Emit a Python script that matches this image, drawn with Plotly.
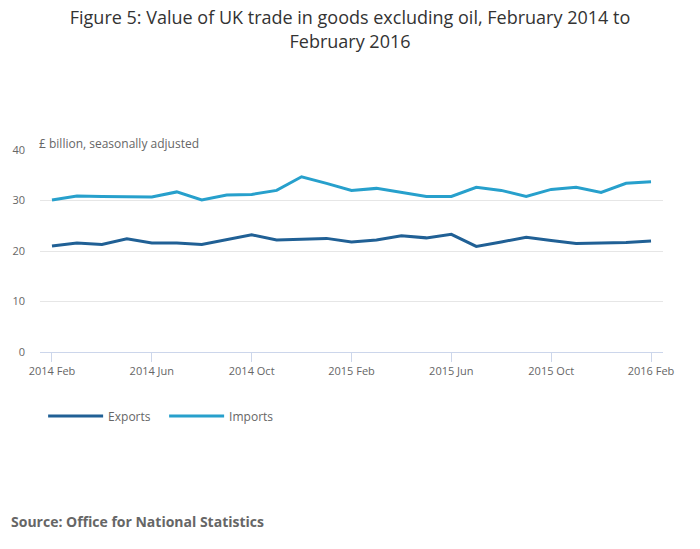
import plotly.graph_objects as go

months = ["2014 Feb", "2014 Mar", "2014 Apr", "2014 May", "2014 Jun", "2014 Jul", "2014 Aug",
          "2014 Sep", "2014 Oct", "2014 Nov", "2014 Dec", "2015 Jan", "2015 Feb", "2015 Mar",
          "2015 Apr", "2015 May", "2015 Jun", "2015 Jul", "2015 Aug", "2015 Sep", "2015 Oct",
          "2015 Nov", "2015 Dec", "2016 Jan", "2016 Feb"]
exports = [21.0, 21.6, 21.3, 22.4, 21.6, 21.6, 21.3, 22.2, 23.2, 22.2, 22.4, 22.5, 21.8,
           22.2, 23.0, 22.6, 23.3, 20.9, 21.8, 22.7, 22.1, 21.5, 21.6, 21.7, 22.0]
imports = [30.1, 30.9, 30.8, 30.8, 30.7, 31.7, 30.1, 31.1, 31.2, 32.0, 34.7, 33.4, 32.0,
           32.4, 31.6, 30.8, 30.8, 32.6, 32.0, 30.8, 32.2, 32.6, 31.6, 33.4, 33.7]
tick_labels = ["2014 Feb", "2014 Jun", "2014 Oct", "2015 Feb", "2015 Jun", "2015 Oct", "2016 Feb"]
y_ticks = [0, 10, 20, 30, 40]

x_idx = list(range(len(months)))
tick_idx = [months.index(t) for t in tick_labels]

fig = go.Figure()
fig.add_trace(go.Scatter(x=x_idx, y=exports, name="Exports", mode="lines",
                         line=dict(color="#206095", width=3), text=months,
                         hovertemplate="%{text}: %{y}<extra>Exports</extra>"))
fig.add_trace(go.Scatter(x=x_idx, y=imports, name="Imports", mode="lines",
                         line=dict(color="#27a0cc", width=3), text=months,
                         hovertemplate="%{text}: %{y}<extra>Imports</extra>"))

fig.update_layout(
    width=700, height=549,
    paper_bgcolor="white", plot_bgcolor="white",
    font=dict(family="Open Sans", color="#666666", size=11),
    margin=dict(l=37, r=37, t=150, b=197),
    title=dict(text="Figure 5: Value of UK trade in goods excluding oil, February 2014 to<br>February 2016",
               x=0.5, xanchor="center", y=0.956, yanchor="top",
               font=dict(family="Open Sans", size=18, color="#333333")),
    showlegend=True,
    legend=dict(orientation="h", x=0.005, xanchor="left", y=-0.317, yanchor="middle",
                font=dict(size=12, color="#666666"), itemwidth=55,
                entrywidth=51, entrywidthmode="pixels"),
    xaxis=dict(range=[-0.48, 24.48], tickmode="array", tickvals=tick_idx, ticktext=tick_labels,
               showgrid=False, zeroline=False, showline=True, linecolor="#ccd6eb", linewidth=1,
               ticks="outside", ticklen=9, tickcolor="#ccd6eb", tickfont=dict(size=11, color="#666666")),
    yaxis=dict(range=[0, 40], tickmode="array", tickvals=y_ticks, showgrid=True, gridcolor="#e6e6e6",
               zeroline=False, showline=False, ticks="", ticklabelstandoff=14,
               tickfont=dict(size=11, color="#666666")),
    annotations=[
        dict(text="£ billion, seasonally adjusted", xref="paper", yref="paper", x=0, y=1.0,
             xanchor="left", yanchor="bottom", showarrow=False, font=dict(size=12, color="#666666"),
             yshift=-4, xshift=-3),
        dict(text="<b>Source: Office for National Statistics</b>", xref="paper", yref="paper",
             x=-0.046, y=-0.84, xanchor="left", yanchor="middle", showarrow=False,
             font=dict(size=14, color="#666666"), xshift=-2),
    ],
)

fig.write_html("out.html", config={"displayModeBar": False},
               post_script="document.body.style.margin='0';")
